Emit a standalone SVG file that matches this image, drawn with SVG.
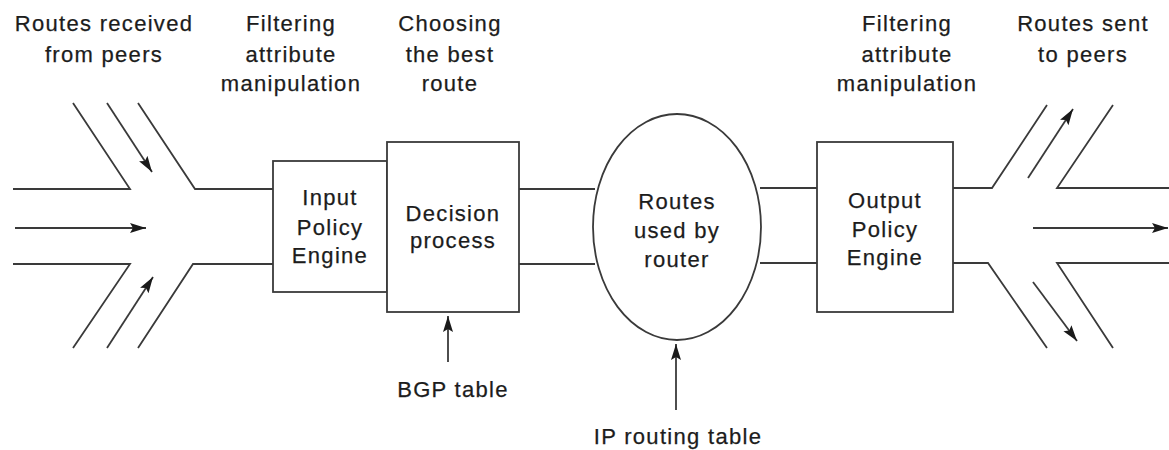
<svg xmlns="http://www.w3.org/2000/svg" width="1169" height="450" viewBox="0 0 1169 450">
<defs>
<style>
.ln{fill:none;stroke:#3a3a3a;stroke-width:1.8}
.arr{fill:none;stroke:#3a3a3a;stroke-width:1.8;marker-end:url(#ah)}
.box{fill:#fff;stroke:#3a3a3a;stroke-width:1.8}
.t{font-family:"Liberation Sans",Arial,sans-serif;font-size:22px;letter-spacing:1.3px;fill:#1c1c1c;stroke:#1c1c1c;stroke-width:0.25;text-anchor:middle}
</style>
<marker id="ah" markerUnits="userSpaceOnUse" markerWidth="18" markerHeight="12" refX="16" refY="5" orient="auto">
<path d="M0,0 L16,5 L0,10 L3,5 z" fill="#1a1a1a"/>
</marker>
</defs>
<rect width="1169" height="450" fill="#fff"/>

<g id="labels">
<text class="t" x="104" y="31">Routes received</text>
<text class="t" x="104" y="62">from peers</text>
<text class="t" x="291" y="31">Filtering</text>
<text class="t" x="291" y="62">attribute</text>
<text class="t" x="291" y="91">manipulation</text>
<text class="t" x="450" y="31">Choosing</text>
<text class="t" x="450" y="62">the best</text>
<text class="t" x="450" y="91">route</text>
<text class="t" x="907" y="31">Filtering</text>
<text class="t" x="907" y="62">attribute</text>
<text class="t" x="907" y="91">manipulation</text>
<text class="t" x="1083" y="31">Routes sent</text>
<text class="t" x="1083" y="62">to peers</text>
</g>

<g id="connectors">
<!-- left funnel -->
<polyline class="ln" points="13,189 130,189 73,103"/>
<polyline class="ln" points="138,103 195,189 273,189"/>
<polyline class="ln" points="13,264 130,264 73,348"/>
<polyline class="ln" points="138,348 193,264 273,264"/>
<line class="arr" x1="107" y1="103" x2="152" y2="172"/>
<line class="arr" x1="15" y1="228" x2="146" y2="228"/>
<line class="arr" x1="107" y1="348" x2="153" y2="277"/>
<!-- decision to ellipse -->
<line class="ln" x1="519" y1="189" x2="595" y2="189"/>
<line class="ln" x1="519" y1="264" x2="595" y2="264"/>
<!-- ellipse to output -->
<line class="ln" x1="760" y1="188" x2="817" y2="188"/>
<line class="ln" x1="760" y1="263" x2="817" y2="263"/>
<!-- right funnel -->
<polyline class="ln" points="953,188 992,188 1047,105"/>
<polyline class="ln" points="1113,105 1057,188 1169,188"/>
<polyline class="ln" points="953,263 988,263 1047,348"/>
<polyline class="ln" points="1113,348 1057,263 1169,263"/>
<line class="arr" x1="1028" y1="178" x2="1073" y2="109"/>
<line class="arr" x1="1033" y1="228" x2="1168" y2="228"/>
<line class="arr" x1="1033" y1="282" x2="1077" y2="341"/>
<!-- table arrows -->
<line class="arr" x1="448" y1="362" x2="448" y2="316"/>
<line class="arr" x1="676" y1="410" x2="676" y2="344"/>
</g>

<g id="input-policy-engine">
<rect class="box" x="273" y="161" width="114" height="131"/>
<text class="t" x="330" y="205">Input</text>
<text class="t" x="330" y="235">Policy</text>
<text class="t" x="330" y="263">Engine</text>
</g>

<g id="decision-process">
<rect class="box" x="387" y="142" width="132" height="170"/>
<text class="t" x="453" y="221">Decision</text>
<text class="t" x="453" y="248">process</text>
</g>

<g id="routes-used-by-router">
<ellipse class="box" cx="677" cy="227" rx="84" ry="113"/>
<text class="t" x="677" y="209">Routes</text>
<text class="t" x="677" y="238">used by</text>
<text class="t" x="677" y="267">router</text>
</g>

<g id="output-policy-engine">
<rect class="box" x="817" y="142" width="136" height="170"/>
<text class="t" x="885" y="208">Output</text>
<text class="t" x="885" y="237">Policy</text>
<text class="t" x="885" y="265">Engine</text>
</g>

<g id="bgp-table">
<text class="t" x="453" y="397">BGP table</text>
</g>

<g id="ip-routing-table">
<text class="t" x="678" y="444">IP routing table</text>
</g>
</svg>
